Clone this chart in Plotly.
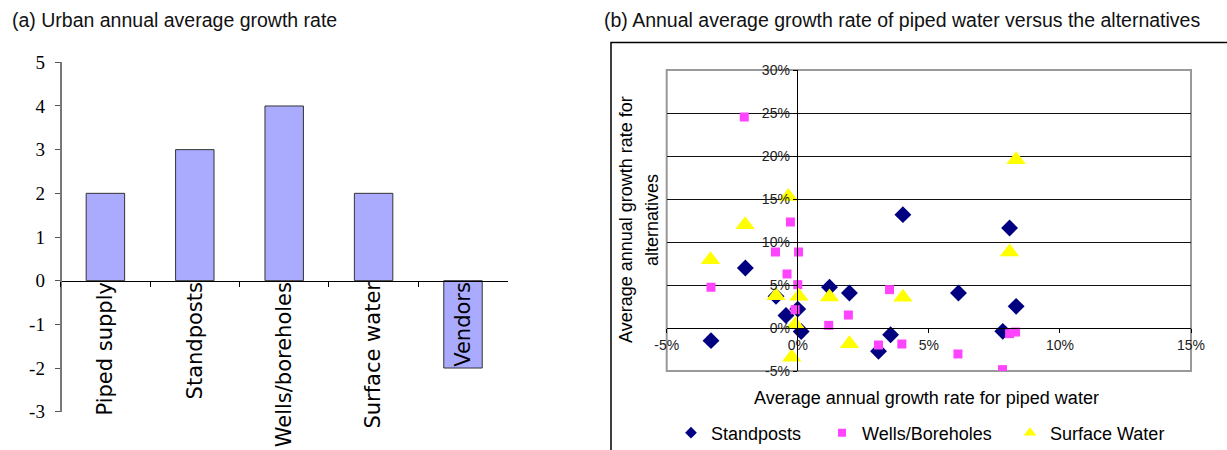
import plotly.graph_objects as go

# ---- Panel (a) data ----
categories = ["Piped supply", "Standposts", "Wells/boreholes", "Surface water", "Vendors"]
growth_values = [2, 3, 4, 2, -2]
a_tick_vals = [-3, -2, -1, 0, 1, 2, 3, 4, 5]
a_tick_text = ["-3", "-2", "-1", "0", "1", "2", "3", "4", "5"]

# ---- Panel (b) data (percent) ----
standposts_x = [-3.31, -2.0, -0.83, -0.45, 0.0, 0.13, 1.21, 1.97, 3.08, 3.54, 4.01, 6.13, 7.82, 8.08, 8.33]
standposts_y = [-1.47, 6.98, 3.68, 1.45, 2.2, -0.4, 4.73, 4.07, -2.71, -0.78, 13.18, 4.07, -0.39, 11.63, 2.52]

wells_x = [-3.31, -2.04, -0.85, -0.41, -0.28, -0.1, 0.0, 0.03, 1.18, 1.93, 3.08, 3.5, 3.97, 6.11, 7.81, 8.08, 8.31]
wells_y = [4.73, 24.53, 8.84, 6.28, 12.33, 2.13, 5.04, 8.84, 0.31, 1.51, -1.98, 4.46, -1.86, -3.02, -4.84, -0.66, -0.47]

surface_x = [-3.33, -2.01, -0.83, -0.36, -0.23, -0.09, 0.04, 1.21, 1.97, 4.01, 8.08, 8.33]
surface_y = [7.95, 12.0, 3.76, 15.3, -3.41, 0.39, 3.68, 3.6, -1.82, 3.57, 8.84, 19.57]

b_x_tick_vals = [-5, 0, 5, 10, 15]
b_x_tick_text = ["-5%", "0%", "5%", "10%", "15%"]
b_y_tick_vals = [-5, 0, 5, 10, 15, 20, 25, 30]
b_y_tick_text = ["-5%", "0%", "5%", "10%", "15%", "20%", "25%", "30%"]

W, H = 1227, 450
def px(x):
    return x / W
def py(y):
    return (H - y) / H

ARIAL = "Liberation Sans, Arial, sans-serif"

fig = go.Figure()

fig.add_trace(go.Bar(
    x=categories, y=growth_values, width=0.43,
    marker=dict(color="#AAAAFF", line=dict(color="#333333", width=1)),
    xaxis="x", yaxis="y", showlegend=False,
))

series = [
    ("Standposts", standposts_x, standposts_y, "diamond", "#000080", 13, 9, "legend", 711),
    ("Wells/Boreholes", wells_x, wells_y, "square", "#FF44FF", 9, 8, "legend2", 862),
    ("Surface Water", surface_x, surface_y, "triangle-up", "#FFFF00", 17, 11, "legend3", 1050),
]
for name, xs, ys, sym, col, size, lsize, lg, tx in series:
    fig.add_trace(go.Scatter(
        x=xs, y=ys, mode="markers", name=name,
        marker=dict(symbol=sym, color=col, size=size, line=dict(width=0)),
        xaxis="x2", yaxis="y2", showlegend=False,
    ))
for name, xs, ys, sym, col, size, lsize, lg, tx in series:
    fig.add_trace(go.Scatter(
        x=[None], y=[None], mode="markers", name=name,
        marker=dict(symbol=sym, color=col, size=lsize, line=dict(width=0)),
        xaxis="x2", yaxis="y2", showlegend=True, legend=lg,
    ))

legend_common = dict(
    orientation="h", xanchor="left", y=py(433), yanchor="middle",
    font=dict(family=ARIAL, size=18, color="black"), bgcolor="rgba(0,0,0,0)",
    borderwidth=0,
)

fx0, fy1 = px(611), py(42.5)
frame_path = f"M {fx0},0 L {fx0},{fy1} L 1,{fy1}"

fig.update_layout(
    width=W, height=H,
    margin=dict(l=0, r=0, t=0, b=0, pad=0, autoexpand=False),
    paper_bgcolor="white", plot_bgcolor="white",
    font=dict(family=ARIAL, color="black"),
    xaxis=dict(
        domain=[px(60.7), px(507.7)], anchor="free", position=0.3763,
        range=[-0.5, 4.5], showline=True, linecolor="black", linewidth=1,
        ticks="outside", tickson="boundaries", ticklen=5, tickcolor="black",
        tickangle=-90, ticklabelstandoff=-8,
        tickfont=dict(family="DejaVu Sans", size=21, color="black"),
        showgrid=False, zeroline=False, automargin=False,
    ),
    yaxis=dict(
        domain=[py(411.7), py(62.3)], anchor="free", position=px(60.7),
        range=[-3, 5], tickvals=a_tick_vals, ticktext=a_tick_text,
        showline=True, linecolor="#777777", linewidth=2,
        ticks="outside", ticklen=5, tickcolor="#555555", ticklabelstandoff=6,
        tickfont=dict(family="Liberation Serif", size=19, color="black"),
        showgrid=False, zeroline=False, automargin=False,
    ),
    xaxis2=dict(
        domain=[px(666.7), px(1191)], anchor="free", position=py(328.3),
        range=[-5, 15], tickvals=b_x_tick_vals, ticktext=b_x_tick_text,
        showline=True, linecolor="black", linewidth=1,
        ticks="outside", ticklen=4, tickcolor="black",
        tickfont=dict(family=ARIAL, size=14, color="#222222"),
        showgrid=False, zeroline=False, automargin=False,
    ),
    yaxis2=dict(
        domain=[py(371), py(70)], anchor="free", position=px(796.7),
        range=[-5, 30], tickvals=b_y_tick_vals, ticktext=b_y_tick_text,
        showline=True, linecolor="black", linewidth=1,
        ticks="outside", ticklen=4, tickcolor="black",
        tickfont=dict(family=ARIAL, size=14, color="#222222"),
        showgrid=True, gridcolor="#111111", gridwidth=1, zeroline=False, automargin=False,
    ),
    legend=dict(x=px(711 - 40), **legend_common),
    legend2=dict(x=px(862 - 40), **legend_common),
    legend3=dict(x=px(1050 - 40), **legend_common),
    shapes=[
        dict(type="rect", xref="paper", yref="paper",
             x0=px(666.7), x1=px(1191), y0=py(371), y1=py(70),
             line=dict(color="#999999", width=2), layer="below"),
        dict(type="path", xref="paper", yref="paper", path=frame_path,
             line=dict(color="black", width=1.5), layer="below"),
    ],
    annotations=[
        dict(text="(a) Urban annual average growth rate", xref="paper", yref="paper",
             x=px(10), y=py(20), xanchor="left", yanchor="middle", showarrow=False,
             font=dict(family=ARIAL, size=19.5, color="#111111")),
        dict(text="(b) Annual average growth rate of piped water versus the alternatives",
             xref="paper", yref="paper", x=px(602), y=py(20), xanchor="left", yanchor="middle",
             showarrow=False, font=dict(family=ARIAL, size=19.5, color="#111111")),
        dict(text="Average annual growth rate for piped water", xref="paper", yref="paper",
             x=px(926), y=py(398), xanchor="center", yanchor="middle", showarrow=False,
             font=dict(family=ARIAL, size=18, color="black")),
        dict(text="Average annual growth rate for", xref="paper", yref="paper",
             x=px(626), y=py(220), xanchor="center", yanchor="middle", showarrow=False,
             textangle=-90, font=dict(family=ARIAL, size=18, color="black")),
        dict(text="alternatives", xref="paper", yref="paper",
             x=px(652), y=py(220), xanchor="center", yanchor="middle", showarrow=False,
             textangle=-90, font=dict(family=ARIAL, size=18, color="black")),
    ],
)

fig.write_html("out.html")
